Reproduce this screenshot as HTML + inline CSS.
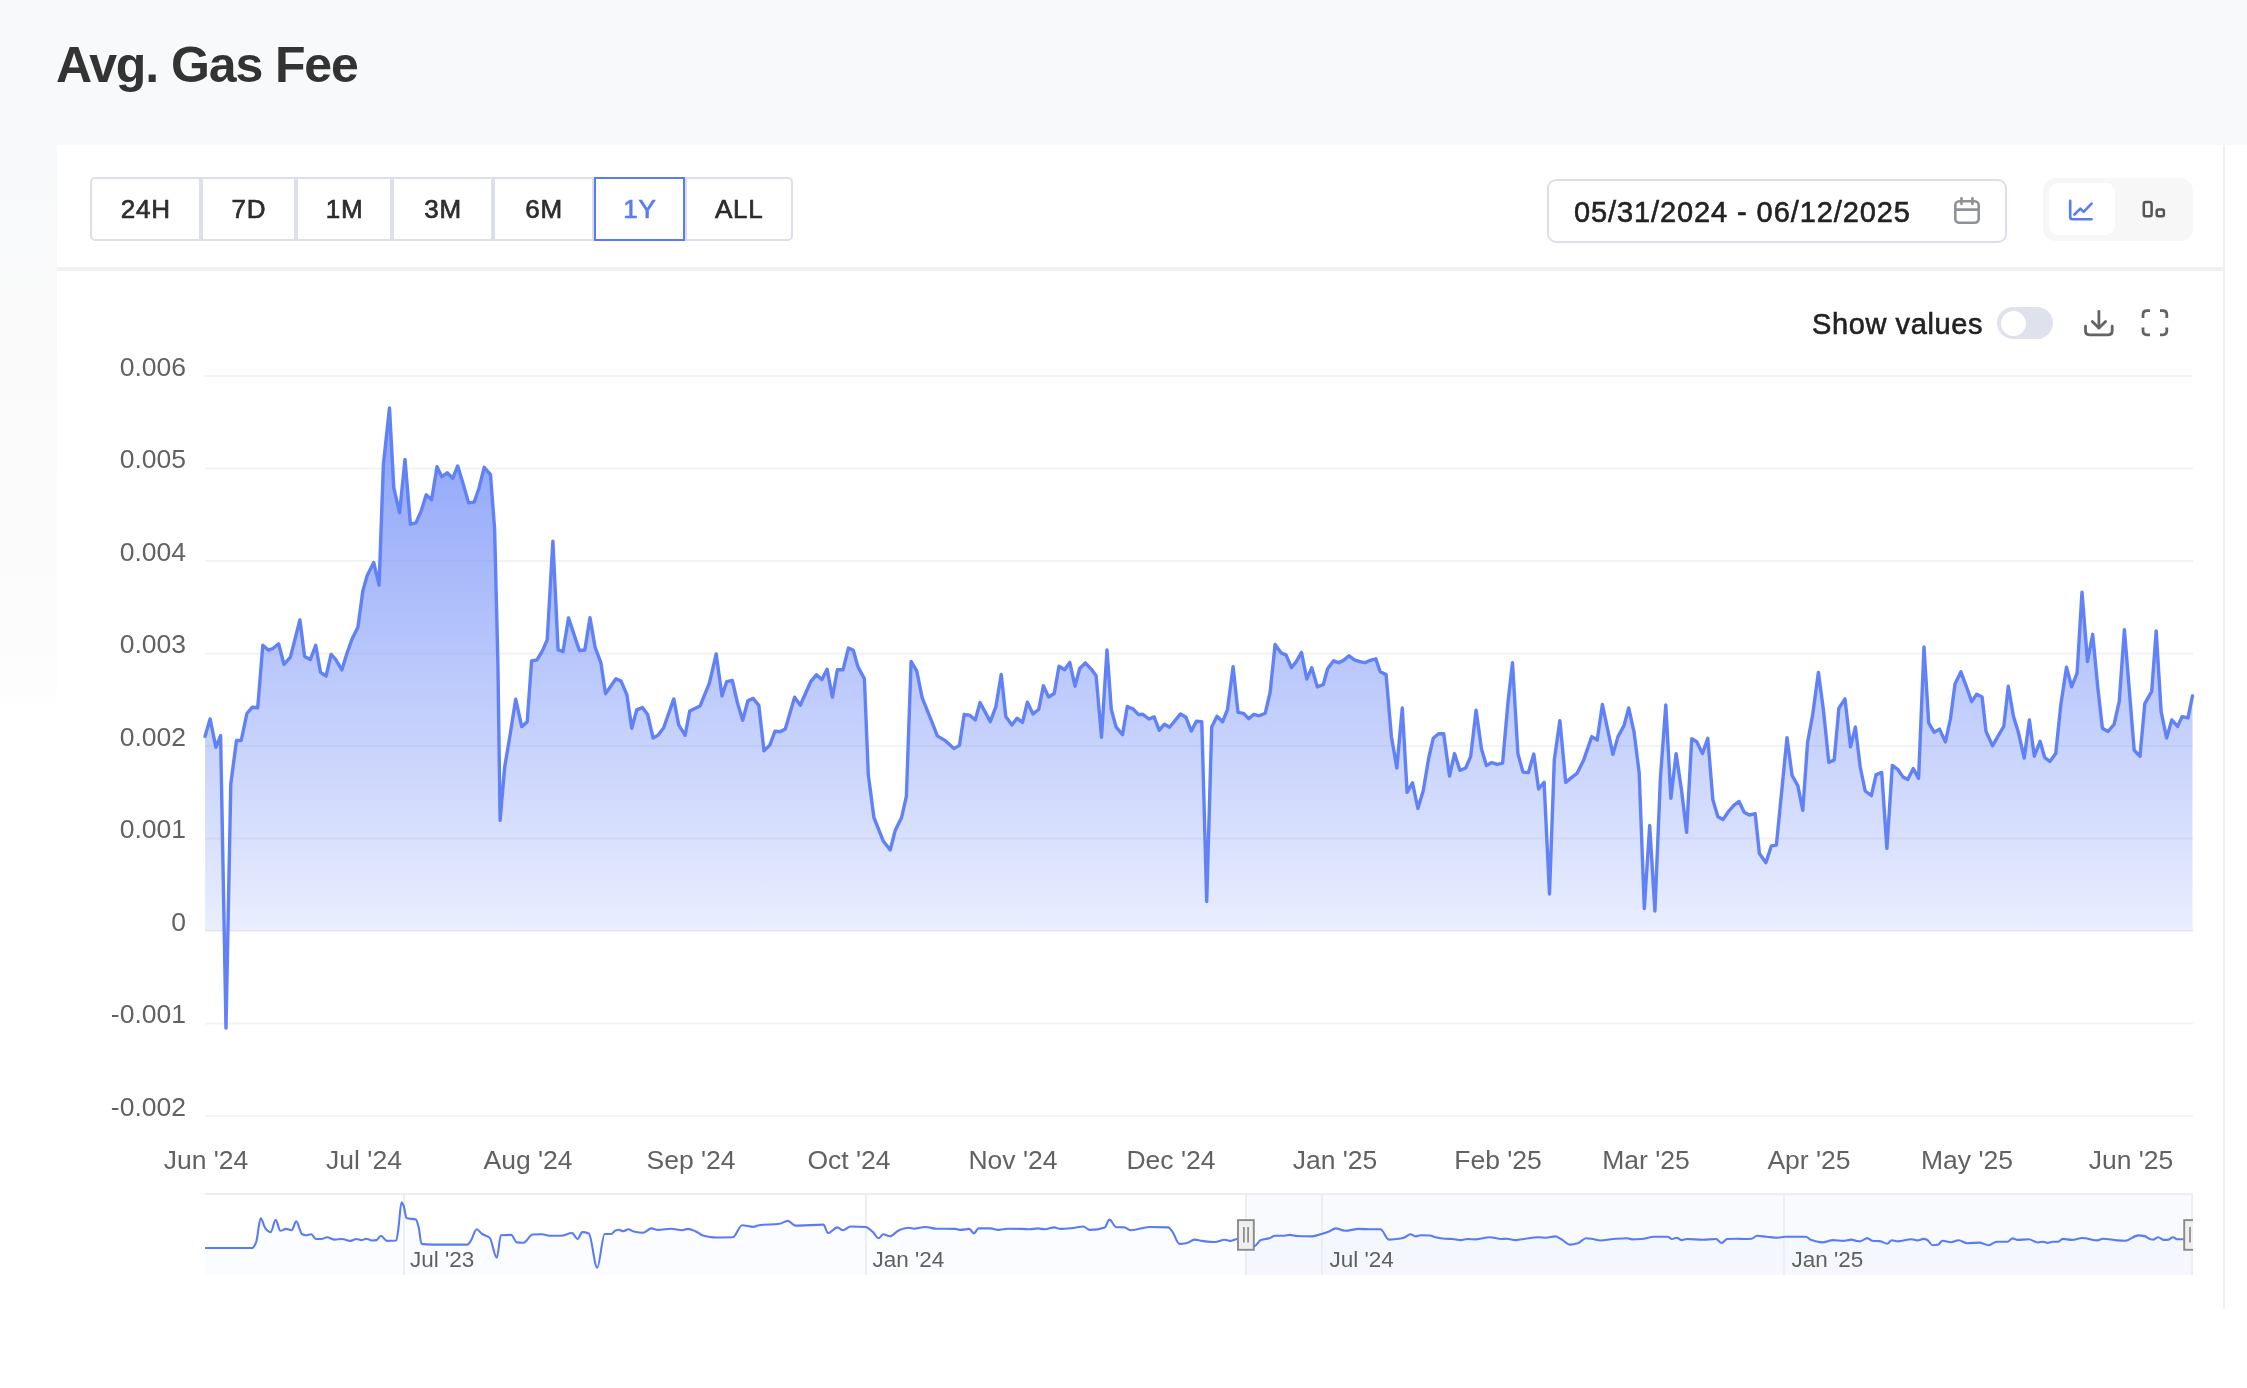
<!DOCTYPE html>
<html><head><meta charset="utf-8">
<style>
*{box-sizing:border-box;margin:0;padding:0}
html,body{width:2247px;height:1388px;overflow:hidden;background:#fff;font-family:"Liberation Sans",sans-serif;color:#2f2f2f}
.abs{position:absolute;will-change:transform}
#topbg{left:0;top:0;width:2247px;height:145px;background:#f8f9fa}
#leftbg{left:0;top:145px;width:57px;height:560px;background:linear-gradient(#f8f9fa 0%,#fafafb 45%,#fdfdfd 97%,#fff 100%)}
#card{left:57px;top:145px;width:2168px;height:1164px;background:#fff;border-right:2px solid #f0f0f2}
#title{left:56px;top:36px;font-size:50px;font-weight:bold;letter-spacing:-1.1px;color:#333;white-space:nowrap;line-height:58px}
#sep{left:57px;top:267px;width:2166px;height:4px;background:#f1f1f2}
.btns{left:89.5px;top:177px;height:64px;display:flex}
.btn{height:64px;border:2px solid #dcdeeb;display:flex;align-items:center;justify-content:center;font-size:26px;letter-spacing:0.8px;color:#2d2d2d;background:#fff;-webkit-text-stroke:0.7px currentColor}
.btn.first{border-radius:5px 0 0 5px}
.btn.last{border-radius:0 5px 5px 0}
.btn.act{border-color:#5a7bf6;color:#5a7bf6}
#date{left:1546.5px;top:178.7px;width:460px;height:64px;border:2px solid #dcdeeb;border-radius:9px}
#datetxt{left:1574px;top:195.5px;-webkit-text-stroke:0.6px #222;font-size:29px;letter-spacing:0.9px;color:#222;white-space:nowrap;line-height:32px}
#tog{left:2043px;top:177.5px;width:150px;height:63px;background:#f7f7f8;border-radius:13px}
#togact{left:2048.8px;top:183.2px;width:66px;height:52px;background:#fff;border-radius:9px}
#showv{left:1812px;top:307.7px;font-size:29px;letter-spacing:0.6px;-webkit-text-stroke:0.6px #222;color:#222;white-space:nowrap;line-height:32px}
#switch{left:1997px;top:307px;width:56px;height:32px;border-radius:16px;background:#dfe1ec}
#knob{left:2000.5px;top:310.5px;width:25px;height:25px;border-radius:50%;background:#fff}
svg{position:absolute;left:0;top:0;will-change:transform}
</style></head><body>
<div class="abs" id="topbg"></div>
<div class="abs" id="leftbg"></div>
<div class="abs" id="card"></div>
<div class="abs" id="title">Avg. Gas Fee</div>
<div class="abs" id="sep"></div>
<div class="abs btns">
<div class="btn first" style="width:111.4px">24H</div>
<div class="btn" style="width:95.1px">7D</div>
<div class="btn" style="width:96px">1M</div>
<div class="btn" style="width:101px">3M</div>
<div class="btn" style="width:101px">6M</div>
<div class="btn act" style="width:91px">1Y</div>
<div class="btn last" style="width:107.6px">ALL</div>
</div>
<div class="abs" id="date"></div>
<div class="abs" id="datetxt">05/31/2024 - 06/12/2025</div>
<div class="abs" id="tog"></div>
<div class="abs" id="togact"></div>
<div class="abs" id="showv">Show values</div>
<div class="abs" id="switch"></div>
<div class="abs" id="knob"></div>
<svg width="2247" height="1388" viewBox="0 0 2247 1388">
<defs>
<linearGradient id="ag" x1="0" y1="408" x2="0" y2="931.1" gradientUnits="userSpaceOnUse">
<stop offset="0" stop-color="#5a7bf6" stop-opacity="0.70"/>
<stop offset="1" stop-color="#5a7bf6" stop-opacity="0.13"/>
</linearGradient>
<clipPath id="above"><rect x="0" y="0" width="2247" height="931.1"/></clipPath>
</defs>
<!-- calendar icon -->
<g fill="none" stroke="#8f9199" stroke-width="2.6" stroke-linecap="round">
<rect x="1955.3" y="201.2" width="23.4" height="21.6" rx="4"/>
<line x1="1955.3" y1="209.6" x2="1978.7" y2="209.6"/>
<line x1="1961.5" y1="198.3" x2="1961.5" y2="204"/>
<line x1="1972.4" y1="198.3" x2="1972.4" y2="204"/>
</g>
<!-- line chart icon -->
<g fill="none" stroke="#5a7bf6" stroke-width="2.6" stroke-linecap="round" stroke-linejoin="round">
<path d="M2070.2 200.8 V217 q0 2.3 2.3 2.3 H2091.6"/>
<path d="M2074.4 214.5 L2080.4 208.6 L2083.6 211.8 L2091.6 203.7"/>
</g>
<!-- bar icon -->
<g fill="none" stroke="#555" stroke-width="2.5">
<rect x="2143.8" y="202" width="7.8" height="14.2" rx="2"/>
<rect x="2156.7" y="209.6" width="7.2" height="6.6" rx="1.8"/>
</g>
<!-- download icon -->
<g fill="none" stroke="#636363" stroke-width="2.8" stroke-linecap="round" stroke-linejoin="round">
<path d="M2085.5 326.2 V331 q0 3.8 3.8 3.8 H2108.4 q3.8 0 3.8 -3.8 V326.2"/>
<path d="M2098.9 311.4 V328"/>
<path d="M2092.3 321.4 L2098.9 328 L2105.6 321.4"/>
</g>
<!-- fullscreen icon -->
<g fill="none" stroke="#636363" stroke-width="2.8" stroke-linecap="butt">
<path d="M2143 318 V314.7 q0 -4 4 -4 H2150"/>
<path d="M2160 310.7 H2162.8 q4 0 4 4 V318"/>
<path d="M2143 327.5 V330.8 q0 4 4 4 H2150"/>
<path d="M2160 334.8 H2162.8 q4 0 4 -4 V327.5"/>
</g>
<line x1="205" y1="376.1" x2="2193" y2="376.1" stroke="#f3f3f4" stroke-width="2"/>
<line x1="205" y1="468.6" x2="2193" y2="468.6" stroke="#f3f3f4" stroke-width="2"/>
<line x1="205" y1="561.1" x2="2193" y2="561.1" stroke="#f3f3f4" stroke-width="2"/>
<line x1="205" y1="653.6" x2="2193" y2="653.6" stroke="#f3f3f4" stroke-width="2"/>
<line x1="205" y1="746.1" x2="2193" y2="746.1" stroke="#f3f3f4" stroke-width="2"/>
<line x1="205" y1="838.6" x2="2193" y2="838.6" stroke="#f3f3f4" stroke-width="2"/>
<line x1="205" y1="931.1" x2="2193" y2="931.1" stroke="#f3f3f4" stroke-width="2"/>
<line x1="205" y1="1023.6" x2="2193" y2="1023.6" stroke="#f3f3f4" stroke-width="2"/>
<line x1="205" y1="1116.1" x2="2193" y2="1116.1" stroke="#f3f3f4" stroke-width="2"/>
<g font-family="Liberation Sans" font-size="26.5" fill="#626262">
<text x="186" y="375.6" text-anchor="end">0.006</text>
<text x="186" y="468.1" text-anchor="end">0.005</text>
<text x="186" y="560.6" text-anchor="end">0.004</text>
<text x="186" y="653.1" text-anchor="end">0.003</text>
<text x="186" y="745.6" text-anchor="end">0.002</text>
<text x="186" y="838.1" text-anchor="end">0.001</text>
<text x="186" y="930.6" text-anchor="end">0</text>
<text x="186" y="1023.1" text-anchor="end">-0.001</text>
<text x="186" y="1115.6" text-anchor="end">-0.002</text>
<text x="206" y="1168.6" text-anchor="middle">Jun '24</text>
<text x="364" y="1168.6" text-anchor="middle">Jul '24</text>
<text x="528" y="1168.6" text-anchor="middle">Aug '24</text>
<text x="691" y="1168.6" text-anchor="middle">Sep '24</text>
<text x="849" y="1168.6" text-anchor="middle">Oct '24</text>
<text x="1013" y="1168.6" text-anchor="middle">Nov '24</text>
<text x="1171" y="1168.6" text-anchor="middle">Dec '24</text>
<text x="1335" y="1168.6" text-anchor="middle">Jan '25</text>
<text x="1498" y="1168.6" text-anchor="middle">Feb '25</text>
<text x="1646" y="1168.6" text-anchor="middle">Mar '25</text>
<text x="1809" y="1168.6" text-anchor="middle">Apr '25</text>
<text x="1967" y="1168.6" text-anchor="middle">May '25</text>
<text x="2131" y="1168.6" text-anchor="middle">Jun '25</text>
</g>
<path d="M205.1 736.3 L210.1 718.9 L215.9 747.4 L220.6 735.7 L226 1028 L230.8 783.9 L236.5 740.5 L241.2 740.5 L246.9 713.5 L252.3 707.2 L257.7 707.8 L262.8 645.3 L268.2 650.1 L272.9 648.5 L278.6 643.8 L284 664.4 L290.4 657.1 L299.9 620 L304.6 656.4 L310.3 659.6 L315.7 645.3 L320.5 672.3 L326.1 676 L331.1 654.4 L335.8 659.7 L341.9 669.9 L346.6 654.4 L352 639.2 L357.9 627.3 L362.9 590.6 L367.2 575.5 L373.7 562.5 L379.1 585.2 L383.4 464.2 L389.5 408 L393.8 487.9 L399.6 512.8 L405 459.4 L410.4 524.2 L415.9 522.9 L421.3 510.6 L426.2 494.8 L431.6 499.8 L437 466.8 L441.8 476.7 L447.2 472.8 L452.7 478.3 L457.7 466 L463.1 483.7 L468.6 502.9 L474.1 502.1 L478.7 489.2 L484.2 467.3 L490.5 474.7 L494.6 528.9 L497.9 663 L500.1 820.4 L504.7 767 L510.2 734.2 L515.7 699.2 L521.7 726.6 L527.2 721.9 L531.6 660.9 L537 659.8 L542.5 650.7 L547.2 639.8 L552.9 541.2 L558.1 649.9 L563 651.6 L568.5 617.9 L579.4 650.5 L584.8 650 L590 617.7 L595.2 647.7 L600.9 662.6 L605.5 693.8 L615.9 678.8 L621.1 681.1 L626.9 694.9 L631.8 728.3 L636.7 709.9 L642.4 707.6 L647.6 714.5 L653.1 738.1 L658 735.3 L663.7 727.8 L673.8 698.9 L678.7 724.9 L685.1 735.3 L689.7 711.1 L700.1 705.9 L709.3 683.4 L716.2 654 L722 696.1 L726.6 681.7 L732.3 680.5 L737.5 703 L742.7 720.3 L747.9 700.7 L753.1 698.4 L758.8 705.3 L764 750.8 L769.8 745.1 L775 731.2 L780.2 731.8 L785.3 728.9 L794.6 697.2 L800.3 705.3 L810.7 681.7 L816.5 674.7 L821.9 679.6 L827.1 669.3 L832.4 697.1 L837.4 669.8 L843 669.8 L848.5 647.9 L853.3 650.3 L858 666.9 L864.4 678.8 L868.3 774.7 L873.9 817.5 L883.4 841.3 L890.2 850 L895.3 830.2 L901.6 817.5 L906.4 796.1 L911.1 661.4 L916.7 670.9 L922.2 697.9 L930.9 719.3 L937.3 735.9 L945.2 740.6 L953.9 748.6 L959.4 745.4 L964.2 714.5 L969.7 715.3 L975.3 720 L980 702.6 L985.6 712.9 L990.3 721.6 L995.9 706.6 L1001.2 674.5 L1005.8 716.5 L1011.9 725.1 L1017 718.2 L1022.5 722.5 L1027.4 702.2 L1033 713.9 L1038.7 709.5 L1043.4 685.8 L1048.6 697 L1054.2 693.5 L1059 666.3 L1064.6 669.8 L1069.8 662.4 L1075 686.2 L1079.7 668.5 L1085.3 662.9 L1091.4 669.3 L1096.1 675.8 L1101.5 737.2 L1107 649.9 L1111.3 709.5 L1116 726.8 L1122.5 734.6 L1127.3 706.5 L1133.3 709.1 L1138.5 714.7 L1142.8 714.3 L1148.9 719 L1154.1 716.9 L1159.2 730.3 L1164.4 724.2 L1169.6 727.3 L1180.5 713.9 L1185.9 717.2 L1191.3 731.1 L1196.4 721.2 L1201.8 721.8 L1206.7 901.5 L1211.7 727.1 L1217 716.2 L1222.6 721.8 L1227.5 709.3 L1233.1 666.7 L1238 712.3 L1243.4 713.3 L1248.7 718.6 L1253.9 714.3 L1259.2 715.8 L1265.2 713.3 L1270.1 692.5 L1275.1 644.5 L1281 652.8 L1286 654.8 L1291.4 667.7 L1296.3 661.7 L1301.5 652.4 L1306.8 679 L1311.8 667.7 L1317.3 686.9 L1323.3 684.5 L1327.6 668.7 L1333.6 660.8 L1338.5 662.7 L1343.5 660.4 L1349 655.8 L1354.4 659.8 L1359.9 661.7 L1364.9 662.7 L1370.2 660.4 L1375.8 658.8 L1380.2 671.7 L1386.1 674.6 L1391.4 736.5 L1396.8 768 L1402.3 708 L1407.1 792.3 L1412.5 782.9 L1417.9 808.5 L1423.3 790.5 L1428.7 758.1 L1433.2 738.3 L1438.6 733.8 L1443.7 733.8 L1449.5 776.1 L1454.5 753.6 L1459.9 770.3 L1465.7 768 L1470.7 756.3 L1476.1 710.3 L1481.5 749.1 L1486.4 765.6 L1491.8 762.6 L1497.2 764.4 L1502.6 763.1 L1508 702.2 L1512.5 662.6 L1517.9 753.6 L1523 772.1 L1528.4 772.5 L1533.8 754.1 L1538.6 789 L1544.1 782.4 L1549.5 894 L1554.3 759.9 L1559.9 720.6 L1565.7 782.4 L1571.1 777.9 L1577 773.4 L1583.7 759.9 L1591.8 736.6 L1597.2 740 L1602.4 704.5 L1607.9 730.7 L1612.9 754.4 L1618 736.6 L1624 725.6 L1628.7 707.9 L1634.1 732.4 L1639.2 773 L1644.3 908.5 L1649.7 825.5 L1654.9 911 L1660.4 778.1 L1665.8 705 L1670.9 798.4 L1676.1 753.6 L1681.5 790 L1686.6 832.3 L1691.7 738.8 L1696.8 741.7 L1702.4 753.6 L1707.8 738.3 L1712.9 800.1 L1717.9 816.7 L1723 819.6 L1728.1 812 L1734 805.2 L1739.1 801.5 L1744.2 812.3 L1749.3 815 L1755.2 813.7 L1759.4 853.5 L1765.9 862.8 L1771.3 845.9 L1776.4 845 L1787 737.6 L1792.1 775.5 L1797.8 785.6 L1802.8 810.4 L1807.6 742.2 L1812.5 715.9 L1818.4 672.5 L1823.4 709.7 L1828.8 762.4 L1834.2 760 L1838.9 708.2 L1845 698.9 L1850.5 746.9 L1855.4 727.1 L1860.2 767 L1865.2 791 L1871.4 795.7 L1876 774.8 L1881.7 772.4 L1886.9 848.3 L1892.3 765.5 L1897.7 769.3 L1903.1 777.1 L1907.8 779.4 L1913.2 768.6 L1918.6 778.3 L1924 647 L1928.7 722.9 L1934.1 732.2 L1939.5 729.1 L1945.4 741.9 L1950.4 719 L1955 684.1 L1960.9 671.8 L1966.6 687.2 L1971.7 701.6 L1976.7 694.2 L1982.1 697 L1986 731.4 L1992.5 745.8 L1998 736.1 L2003.8 726.4 L2008.3 686.2 L2013.5 716.6 L2018.5 732.8 L2024.2 758.1 L2029.4 719.9 L2034.3 756.2 L2040.1 741.3 L2044.7 757.5 L2049.9 761.4 L2055.7 753.6 L2060.9 704.3 L2066.5 667.3 L2071.6 686.8 L2077.1 673.2 L2082 592.1 L2087.5 661.5 L2092.7 634.3 L2097.8 687.5 L2102.4 728.3 L2108 731.5 L2114.1 724.4 L2119.2 701.7 L2124.4 629.7 L2129 686.2 L2134.2 750.3 L2140 756.2 L2144.8 703.7 L2151.7 691.3 L2156.2 631 L2161.1 711.4 L2166.6 738 L2171.8 719.9 L2177.6 726.4 L2182.1 716.6 L2188 717.9 L2192.5 695.9 L2192.5 931.1 L205.1 931.1 Z" fill="url(#ag)" clip-path="url(#above)"/>
<path d="M205.1 736.3 L210.1 718.9 L215.9 747.4 L220.6 735.7 L226 1028 L230.8 783.9 L236.5 740.5 L241.2 740.5 L246.9 713.5 L252.3 707.2 L257.7 707.8 L262.8 645.3 L268.2 650.1 L272.9 648.5 L278.6 643.8 L284 664.4 L290.4 657.1 L299.9 620 L304.6 656.4 L310.3 659.6 L315.7 645.3 L320.5 672.3 L326.1 676 L331.1 654.4 L335.8 659.7 L341.9 669.9 L346.6 654.4 L352 639.2 L357.9 627.3 L362.9 590.6 L367.2 575.5 L373.7 562.5 L379.1 585.2 L383.4 464.2 L389.5 408 L393.8 487.9 L399.6 512.8 L405 459.4 L410.4 524.2 L415.9 522.9 L421.3 510.6 L426.2 494.8 L431.6 499.8 L437 466.8 L441.8 476.7 L447.2 472.8 L452.7 478.3 L457.7 466 L463.1 483.7 L468.6 502.9 L474.1 502.1 L478.7 489.2 L484.2 467.3 L490.5 474.7 L494.6 528.9 L497.9 663 L500.1 820.4 L504.7 767 L510.2 734.2 L515.7 699.2 L521.7 726.6 L527.2 721.9 L531.6 660.9 L537 659.8 L542.5 650.7 L547.2 639.8 L552.9 541.2 L558.1 649.9 L563 651.6 L568.5 617.9 L579.4 650.5 L584.8 650 L590 617.7 L595.2 647.7 L600.9 662.6 L605.5 693.8 L615.9 678.8 L621.1 681.1 L626.9 694.9 L631.8 728.3 L636.7 709.9 L642.4 707.6 L647.6 714.5 L653.1 738.1 L658 735.3 L663.7 727.8 L673.8 698.9 L678.7 724.9 L685.1 735.3 L689.7 711.1 L700.1 705.9 L709.3 683.4 L716.2 654 L722 696.1 L726.6 681.7 L732.3 680.5 L737.5 703 L742.7 720.3 L747.9 700.7 L753.1 698.4 L758.8 705.3 L764 750.8 L769.8 745.1 L775 731.2 L780.2 731.8 L785.3 728.9 L794.6 697.2 L800.3 705.3 L810.7 681.7 L816.5 674.7 L821.9 679.6 L827.1 669.3 L832.4 697.1 L837.4 669.8 L843 669.8 L848.5 647.9 L853.3 650.3 L858 666.9 L864.4 678.8 L868.3 774.7 L873.9 817.5 L883.4 841.3 L890.2 850 L895.3 830.2 L901.6 817.5 L906.4 796.1 L911.1 661.4 L916.7 670.9 L922.2 697.9 L930.9 719.3 L937.3 735.9 L945.2 740.6 L953.9 748.6 L959.4 745.4 L964.2 714.5 L969.7 715.3 L975.3 720 L980 702.6 L985.6 712.9 L990.3 721.6 L995.9 706.6 L1001.2 674.5 L1005.8 716.5 L1011.9 725.1 L1017 718.2 L1022.5 722.5 L1027.4 702.2 L1033 713.9 L1038.7 709.5 L1043.4 685.8 L1048.6 697 L1054.2 693.5 L1059 666.3 L1064.6 669.8 L1069.8 662.4 L1075 686.2 L1079.7 668.5 L1085.3 662.9 L1091.4 669.3 L1096.1 675.8 L1101.5 737.2 L1107 649.9 L1111.3 709.5 L1116 726.8 L1122.5 734.6 L1127.3 706.5 L1133.3 709.1 L1138.5 714.7 L1142.8 714.3 L1148.9 719 L1154.1 716.9 L1159.2 730.3 L1164.4 724.2 L1169.6 727.3 L1180.5 713.9 L1185.9 717.2 L1191.3 731.1 L1196.4 721.2 L1201.8 721.8 L1206.7 901.5 L1211.7 727.1 L1217 716.2 L1222.6 721.8 L1227.5 709.3 L1233.1 666.7 L1238 712.3 L1243.4 713.3 L1248.7 718.6 L1253.9 714.3 L1259.2 715.8 L1265.2 713.3 L1270.1 692.5 L1275.1 644.5 L1281 652.8 L1286 654.8 L1291.4 667.7 L1296.3 661.7 L1301.5 652.4 L1306.8 679 L1311.8 667.7 L1317.3 686.9 L1323.3 684.5 L1327.6 668.7 L1333.6 660.8 L1338.5 662.7 L1343.5 660.4 L1349 655.8 L1354.4 659.8 L1359.9 661.7 L1364.9 662.7 L1370.2 660.4 L1375.8 658.8 L1380.2 671.7 L1386.1 674.6 L1391.4 736.5 L1396.8 768 L1402.3 708 L1407.1 792.3 L1412.5 782.9 L1417.9 808.5 L1423.3 790.5 L1428.7 758.1 L1433.2 738.3 L1438.6 733.8 L1443.7 733.8 L1449.5 776.1 L1454.5 753.6 L1459.9 770.3 L1465.7 768 L1470.7 756.3 L1476.1 710.3 L1481.5 749.1 L1486.4 765.6 L1491.8 762.6 L1497.2 764.4 L1502.6 763.1 L1508 702.2 L1512.5 662.6 L1517.9 753.6 L1523 772.1 L1528.4 772.5 L1533.8 754.1 L1538.6 789 L1544.1 782.4 L1549.5 894 L1554.3 759.9 L1559.9 720.6 L1565.7 782.4 L1571.1 777.9 L1577 773.4 L1583.7 759.9 L1591.8 736.6 L1597.2 740 L1602.4 704.5 L1607.9 730.7 L1612.9 754.4 L1618 736.6 L1624 725.6 L1628.7 707.9 L1634.1 732.4 L1639.2 773 L1644.3 908.5 L1649.7 825.5 L1654.9 911 L1660.4 778.1 L1665.8 705 L1670.9 798.4 L1676.1 753.6 L1681.5 790 L1686.6 832.3 L1691.7 738.8 L1696.8 741.7 L1702.4 753.6 L1707.8 738.3 L1712.9 800.1 L1717.9 816.7 L1723 819.6 L1728.1 812 L1734 805.2 L1739.1 801.5 L1744.2 812.3 L1749.3 815 L1755.2 813.7 L1759.4 853.5 L1765.9 862.8 L1771.3 845.9 L1776.4 845 L1787 737.6 L1792.1 775.5 L1797.8 785.6 L1802.8 810.4 L1807.6 742.2 L1812.5 715.9 L1818.4 672.5 L1823.4 709.7 L1828.8 762.4 L1834.2 760 L1838.9 708.2 L1845 698.9 L1850.5 746.9 L1855.4 727.1 L1860.2 767 L1865.2 791 L1871.4 795.7 L1876 774.8 L1881.7 772.4 L1886.9 848.3 L1892.3 765.5 L1897.7 769.3 L1903.1 777.1 L1907.8 779.4 L1913.2 768.6 L1918.6 778.3 L1924 647 L1928.7 722.9 L1934.1 732.2 L1939.5 729.1 L1945.4 741.9 L1950.4 719 L1955 684.1 L1960.9 671.8 L1966.6 687.2 L1971.7 701.6 L1976.7 694.2 L1982.1 697 L1986 731.4 L1992.5 745.8 L1998 736.1 L2003.8 726.4 L2008.3 686.2 L2013.5 716.6 L2018.5 732.8 L2024.2 758.1 L2029.4 719.9 L2034.3 756.2 L2040.1 741.3 L2044.7 757.5 L2049.9 761.4 L2055.7 753.6 L2060.9 704.3 L2066.5 667.3 L2071.6 686.8 L2077.1 673.2 L2082 592.1 L2087.5 661.5 L2092.7 634.3 L2097.8 687.5 L2102.4 728.3 L2108 731.5 L2114.1 724.4 L2119.2 701.7 L2124.4 629.7 L2129 686.2 L2134.2 750.3 L2140 756.2 L2144.8 703.7 L2151.7 691.3 L2156.2 631 L2161.1 711.4 L2166.6 738 L2171.8 719.9 L2177.6 726.4 L2182.1 716.6 L2188 717.9 L2192.5 695.9" fill="none" stroke="#6181f7" stroke-width="3.4" stroke-linejoin="round" stroke-linecap="round"/>
<!-- slider -->
<rect x="205" y="1194" width="1988" height="80" fill="#fff"/>
<rect x="1246" y="1195" width="946" height="79.5" fill="#f9fafe"/>
<line x1="205" y1="1194" x2="2193" y2="1194" stroke="#eeeeef" stroke-width="2"/>
<path d="M205 1248 C220.8 1248.0 236.5 1248.0 252.3 1248 C253.6 1248.0 254.8 1245.3 256.1 1242.4 C257.6 1238.9 259.2 1218.4 260.7 1218.4 C262.3 1218.4 263.8 1226.7 265.4 1228.4 C267.2 1230.3 268.9 1232.1 270.7 1232.1 C272.4 1232.1 274.0 1219.9 275.7 1219.9 C277.3 1219.9 278.8 1230.8 280.4 1230.8 C282.3 1230.8 284.1 1228.9 286 1228.9 C287.9 1228.9 289.7 1230.2 291.6 1230.2 C293.2 1230.2 294.7 1221.4 296.3 1221.4 C298.2 1221.4 300.0 1232.9 301.9 1234 C303.1 1234.7 304.4 1235.3 305.6 1235.3 C307.5 1235.3 309.3 1234.2 311.2 1234.2 C312.8 1234.2 314.3 1239.0 315.9 1239 C317.8 1239.0 319.6 1239.0 321.5 1239 C323.4 1239.0 325.2 1237.3 327.1 1237.3 C329.6 1237.3 332.1 1239.6 334.6 1239.6 C337.1 1239.6 339.6 1239.0 342.1 1239 C344.9 1239.0 347.7 1240.9 350.5 1240.9 C352.4 1240.9 354.2 1239.0 356.1 1239 C358.0 1239.0 359.8 1240.1 361.7 1240.1 C363.3 1240.1 364.8 1238.7 366.4 1238.7 C368.3 1238.7 370.1 1240.5 372 1240.5 C373.5 1240.5 375.1 1240.3 376.6 1240.1 C378.0 1239.9 379.5 1235.8 380.9 1235.8 C382.9 1235.8 384.9 1240.9 386.9 1240.9 C390.0 1240.9 393.2 1240.8 396.3 1240.5 C397.0 1240.4 397.8 1232.5 398.5 1227.4 C399.5 1220.5 400.5 1202.2 401.5 1202.2 C402.2 1202.2 403.0 1204.2 403.7 1205.9 C404.6 1208.1 405.6 1217.8 406.5 1218.1 C409.6 1219.3 412.8 1218.5 415.9 1219.6 C416.8 1219.9 417.8 1223.9 418.7 1227.4 C419.6 1230.9 420.6 1243.8 421.5 1243.9 C425.5 1244.5 429.6 1244.6 433.6 1244.6 C444.8 1244.6 456.1 1244.6 467.3 1244.6 C468.5 1244.6 469.8 1242.2 471 1240.5 C472.9 1237.9 474.7 1229.3 476.6 1229.3 C478.5 1229.3 480.3 1232.8 482.2 1234 C484.7 1235.6 487.2 1235.6 489.7 1237.7 C492.1 1239.7 494.4 1257.7 496.8 1257.7 C498.2 1257.7 499.5 1235.4 500.9 1235.3 C504.3 1235.0 507.8 1234.9 511.2 1234.9 C513.1 1234.9 514.9 1242.2 516.8 1242.4 C519.0 1242.7 521.2 1242.8 523.4 1242.8 C526.5 1242.8 529.6 1234.6 532.7 1234.5 C535.8 1234.4 539.0 1234.3 542.1 1234.3 C544.6 1234.3 547.0 1235.8 549.5 1235.8 C553.2 1235.8 557.0 1235.8 560.7 1235.8 C564.5 1235.8 568.2 1233.0 572 1233 C573.9 1233.0 575.7 1239.0 577.6 1239 C579.1 1239.0 580.7 1232.1 582.2 1232.1 C584.4 1232.1 586.6 1232.6 588.8 1233.4 C591.6 1234.4 594.4 1267.7 597.2 1267.7 C599.7 1267.7 602.2 1234.0 604.7 1234 C606.9 1234.0 609.0 1234.0 611.2 1234 C612.5 1234.0 613.7 1231.4 615 1230.8 C616.2 1230.3 617.5 1229.7 618.7 1229.7 C620.3 1229.7 621.8 1231.2 623.4 1231.2 C625.0 1231.2 626.5 1229.3 628.1 1229.3 C630.0 1229.3 631.8 1231.1 633.7 1231.5 C636.8 1232.1 639.9 1232.7 643 1232.7 C645.8 1232.7 648.6 1228.4 651.4 1228.4 C653.6 1228.4 655.8 1229.9 658 1229.9 C662.4 1229.9 666.7 1228.7 671.1 1228.7 C674.8 1228.7 678.6 1230.2 682.3 1230.2 C684.2 1230.2 686.0 1228.9 687.9 1228.9 C690.4 1228.9 692.9 1230.2 695.4 1231.2 C697.9 1232.2 700.4 1234.9 702.9 1235.5 C707.2 1236.6 711.6 1237.5 715.9 1237.5 C721.5 1237.5 727.2 1237.4 732.8 1237.3 C735.9 1237.2 739.0 1225.2 742.1 1225.2 C745.8 1225.2 749.6 1226.9 753.3 1226.9 C755.2 1226.9 757.0 1225.4 758.9 1225.2 C765.8 1224.3 772.6 1224.6 779.5 1223.7 C782.3 1223.3 785.1 1220.9 787.9 1220.9 C790.4 1220.9 792.9 1225.6 795.4 1225.6 C804.7 1225.6 814.1 1224.6 823.4 1224.6 C825.0 1224.6 826.5 1233.0 828.1 1233 C831.2 1233.0 834.3 1227.4 837.4 1227.4 C839.3 1227.4 841.1 1230.2 843 1230.2 C845.5 1230.2 848.0 1226.5 850.5 1226.5 C855.5 1226.5 860.5 1226.6 865.5 1227 C868.0 1227.2 870.5 1230.0 873 1232.1 C874.9 1233.7 876.7 1238.3 878.6 1238.3 C880.1 1238.3 881.7 1234.3 883.2 1234.3 C885.4 1234.3 887.6 1236.2 889.8 1236.2 C892.9 1236.2 896.0 1231.3 899.1 1230.2 C902.2 1229.1 905.4 1227.8 908.5 1227.8 C910.4 1227.8 912.2 1228.7 914.1 1228.7 C917.8 1228.7 921.6 1227.0 925.3 1227 C929.0 1227.0 932.8 1228.6 936.5 1228.7 C942.7 1228.8 949.0 1228.8 955.2 1228.9 C957.1 1228.9 958.9 1229.9 960.8 1229.9 C963.6 1229.9 966.4 1228.9 969.2 1228.9 C970.8 1228.9 972.3 1233.4 973.9 1233.4 C975.5 1233.4 977.0 1228.4 978.6 1228.4 C982.6 1228.4 986.7 1228.4 990.7 1228.4 C993.2 1228.4 995.7 1229.9 998.2 1229.9 C1001.3 1229.9 1004.4 1228.7 1007.5 1228.7 C1012.5 1228.7 1017.5 1228.8 1022.5 1228.9 C1025.0 1229.0 1027.5 1229.3 1030 1229.3 C1032.5 1229.3 1035.0 1228.4 1037.5 1228.4 C1040.0 1228.4 1042.5 1229.3 1045 1229.3 C1048.1 1229.3 1051.2 1227.4 1054.3 1227.4 C1056.2 1227.4 1058.0 1228.9 1059.9 1228.9 C1064.3 1228.9 1068.6 1228.4 1073 1228 C1076.4 1227.7 1079.9 1226.5 1083.3 1226.5 C1085.5 1226.5 1087.6 1229.9 1089.8 1229.9 C1094.8 1229.9 1099.8 1229.2 1104.8 1227.4 C1106.3 1226.9 1107.9 1219.6 1109.4 1219.6 C1111.6 1219.6 1113.8 1226.8 1116 1227 C1118.8 1227.3 1121.6 1227.2 1124.4 1227.4 C1126.6 1227.6 1128.7 1230.2 1130.9 1230.2 C1137.1 1230.2 1143.4 1227.0 1149.6 1227 C1155.8 1227.0 1162.1 1227.1 1168.3 1227.4 C1169.6 1227.5 1170.8 1229.6 1172.1 1231.2 C1174.6 1234.2 1177.0 1243.9 1179.5 1243.9 C1182.0 1243.9 1184.5 1243.5 1187 1243 C1189.5 1242.5 1192.0 1239.6 1194.5 1239.6 C1197.0 1239.6 1199.5 1240.6 1202 1240.9 C1206.3 1241.4 1210.7 1242.0 1215 1242 C1218.1 1242.0 1221.3 1239.8 1224.4 1239.8 C1226.3 1239.8 1228.1 1240.9 1230 1240.9 C1232.5 1240.9 1235.0 1239.0 1237.5 1239 C1240.3 1239.0 1243.2 1241.8 1246 1243 C1248.8 1244.2 1251.5 1246.1 1254.3 1246.1 C1256.5 1246.1 1258.6 1240.9 1260.8 1240.1 C1263.6 1239.1 1266.5 1239.1 1269.3 1238.3 C1271.2 1237.8 1273.0 1235.8 1274.9 1235.8 C1278.0 1235.8 1281.1 1235.8 1284.2 1235.8 C1286.1 1235.8 1287.9 1234.9 1289.8 1234.9 C1292.3 1234.9 1294.8 1235.9 1297.3 1236 C1302.3 1236.2 1307.2 1236.4 1312.2 1236.4 C1315.3 1236.4 1318.5 1234.9 1321.6 1234 C1324.1 1233.3 1326.6 1232.5 1329.1 1231.5 C1331.3 1230.6 1333.4 1228.4 1335.6 1228.4 C1338.7 1228.4 1341.9 1230.8 1345 1230.8 C1349.7 1230.8 1354.3 1228.9 1359 1228.9 C1363.3 1228.9 1367.7 1229.3 1372 1229.3 C1374.8 1229.3 1377.7 1229.3 1380.5 1229.3 C1383.3 1229.3 1386.1 1239.6 1388.9 1239.6 C1391.4 1239.6 1393.9 1239.3 1396.4 1239 C1398.9 1238.7 1401.3 1238.4 1403.8 1237.7 C1406.0 1237.1 1408.2 1234.3 1410.4 1234.3 C1412.3 1234.3 1414.1 1236.4 1416 1236.4 C1417.6 1236.4 1419.1 1235.3 1420.7 1235.3 C1423.8 1235.3 1426.9 1235.4 1430 1235.5 C1431.9 1235.6 1433.7 1236.9 1435.6 1237.3 C1438.7 1238.0 1441.9 1238.5 1445 1238.7 C1447.5 1238.9 1450.0 1238.8 1452.5 1239 C1455.3 1239.2 1458.1 1240.1 1460.9 1240.1 C1463.1 1240.1 1465.2 1239.0 1467.4 1239 C1470.2 1239.0 1473.0 1239.4 1475.8 1239.4 C1480.5 1239.4 1485.2 1237.2 1489.9 1237.2 C1493.6 1237.2 1497.4 1239.0 1501.1 1239 C1503.0 1239.0 1504.8 1238.7 1506.7 1238.7 C1509.8 1238.7 1512.9 1240.1 1516 1240.1 C1519.1 1240.1 1522.3 1239.1 1525.4 1238.7 C1529.8 1238.1 1534.1 1237.2 1538.5 1237.2 C1541.0 1237.2 1543.4 1237.7 1545.9 1237.7 C1549.0 1237.7 1552.2 1236.4 1555.3 1236.4 C1557.2 1236.4 1559.0 1238.0 1560.9 1239 C1564.0 1240.6 1567.1 1244.6 1570.2 1244.6 C1572.7 1244.6 1575.2 1244.0 1577.7 1243.3 C1580.5 1242.6 1583.3 1238.3 1586.1 1238.3 C1588.3 1238.3 1590.5 1238.7 1592.7 1239 C1595.2 1239.3 1597.6 1240.5 1600.1 1240.5 C1604.5 1240.5 1608.8 1239.3 1613.2 1239 C1617.9 1238.7 1622.5 1238.3 1627.2 1238.3 C1628.8 1238.3 1630.3 1239.4 1631.9 1239.4 C1635.0 1239.4 1638.2 1239.2 1641.3 1239 C1645.6 1238.7 1650.0 1236.8 1654.3 1236.8 C1658.7 1236.8 1663.0 1236.8 1667.4 1236.8 C1669.0 1236.8 1670.5 1239.0 1672.1 1239 C1673.7 1239.0 1675.2 1237.7 1676.8 1237.7 C1678.3 1237.7 1679.9 1240.1 1681.4 1240.1 C1683.3 1240.1 1685.1 1239.0 1687 1239 C1692.3 1239.0 1697.6 1239.8 1702.9 1239.8 C1707.3 1239.8 1711.6 1239.0 1716 1239 C1717.9 1239.0 1719.7 1243.0 1721.6 1243 C1723.5 1243.0 1725.3 1239.1 1727.2 1239 C1730.3 1238.8 1733.5 1238.7 1736.6 1238.7 C1739.1 1238.7 1741.6 1239.0 1744.1 1239 C1746.6 1239.0 1749.0 1238.9 1751.5 1238.7 C1753.4 1238.6 1755.2 1235.8 1757.1 1235.8 C1760.2 1235.8 1763.4 1236.5 1766.5 1236.8 C1770.2 1237.1 1774.0 1237.7 1777.7 1237.7 C1780.2 1237.7 1782.7 1236.8 1785.2 1236.8 C1792.0 1236.8 1798.9 1236.8 1805.7 1236.8 C1807.6 1236.8 1809.5 1239.5 1811.4 1240.1 C1815.1 1241.3 1818.9 1242.4 1822.6 1242.4 C1826.0 1242.4 1829.5 1240.1 1832.9 1240.1 C1836.3 1240.1 1839.7 1240.9 1843.1 1240.9 C1845.9 1240.9 1848.7 1239.6 1851.5 1239.6 C1853.1 1239.6 1854.6 1240.6 1856.2 1240.9 C1857.5 1241.1 1858.7 1241.4 1860 1241.4 C1862.4 1241.4 1864.9 1238.1 1867.3 1238.1 C1868.9 1238.1 1870.5 1240.5 1872.1 1240.7 C1874.6 1241.0 1877.2 1240.9 1879.7 1241.1 C1882.2 1241.3 1884.7 1243.7 1887.2 1243.7 C1888.7 1243.7 1890.3 1240.2 1891.8 1240.2 C1893.8 1240.2 1895.8 1241.4 1897.8 1241.4 C1902.3 1241.4 1906.9 1239.2 1911.4 1239.2 C1913.4 1239.2 1915.5 1240.4 1917.5 1240.4 C1919.5 1240.4 1921.5 1238.9 1923.5 1238.9 C1924.8 1238.9 1926.0 1239.4 1927.3 1239.9 C1929.1 1240.6 1930.8 1245.2 1932.6 1245.2 C1934.4 1245.2 1936.1 1245.1 1937.9 1244.8 C1939.4 1244.6 1941.0 1240.7 1942.5 1240.7 C1945.3 1240.7 1948.0 1242.2 1950.8 1242.2 C1953.3 1242.2 1955.9 1240.2 1958.4 1240.2 C1961.4 1240.2 1964.4 1243.2 1967.4 1243.2 C1971.4 1243.2 1975.5 1242.6 1979.5 1242.6 C1982.5 1242.6 1985.6 1245.2 1988.6 1245.2 C1991.4 1245.2 1994.1 1241.7 1996.9 1241.7 C2000.4 1241.7 2004.0 1241.7 2007.5 1241.7 C2009.3 1241.7 2011.0 1238.4 2012.8 1238.4 C2014.3 1238.4 2015.9 1239.9 2017.4 1239.9 C2021.2 1239.9 2024.9 1239.3 2028.7 1239.3 C2031.7 1239.3 2034.8 1242.5 2037.8 1242.5 C2039.6 1242.5 2041.3 1241.7 2043.1 1241.7 C2044.6 1241.7 2046.1 1242.9 2047.6 1242.9 C2049.4 1242.9 2051.1 1241.7 2052.9 1241.7 C2054.7 1241.7 2056.4 1241.7 2058.2 1241.7 C2059.7 1241.7 2061.3 1238.9 2062.8 1238.9 C2065.8 1238.9 2068.8 1239.9 2071.8 1239.9 C2075.3 1239.9 2078.9 1238.0 2082.4 1238 C2087.5 1238.0 2092.5 1240.4 2097.6 1240.4 C2099.4 1240.4 2101.1 1238.7 2102.9 1238.7 C2107.7 1238.7 2112.4 1240.1 2117.2 1240.4 C2119.7 1240.6 2122.3 1240.8 2124.8 1240.8 C2129.3 1240.8 2133.9 1235.4 2138.4 1235.4 C2140.4 1235.4 2142.5 1235.7 2144.5 1236.1 C2146.5 1236.5 2148.5 1238.8 2150.5 1239.2 C2151.5 1239.4 2152.5 1239.6 2153.5 1239.6 C2155.0 1239.6 2156.6 1237.2 2158.1 1237.2 C2160.1 1237.2 2162.1 1239.9 2164.1 1239.9 C2165.6 1239.9 2167.2 1239.8 2168.7 1239.6 C2170.1 1239.4 2171.5 1237.2 2172.9 1237.2 C2174.2 1237.2 2175.6 1239.2 2176.9 1239.2 C2178.9 1239.2 2181.0 1239.2 2183 1239.2 C2186.0 1239.2 2189.0 1239.2 2192 1239.2 L2192 1274.5 L205 1274.5 Z" fill="#5a7bf6" fill-opacity="0.022"/>
<g stroke="#eeeeef" stroke-width="2">
<line x1="404" y1="1195" x2="404" y2="1275"/>
<line x1="866" y1="1195" x2="866" y2="1275"/>
<line x1="1246" y1="1195" x2="1246" y2="1275"/>
<line x1="1322" y1="1195" x2="1322" y2="1275"/>
<line x1="1784" y1="1195" x2="1784" y2="1275"/>
<line x1="2192" y1="1195" x2="2192" y2="1275"/>
</g>
<path d="M205 1248 C220.8 1248.0 236.5 1248.0 252.3 1248 C253.6 1248.0 254.8 1245.3 256.1 1242.4 C257.6 1238.9 259.2 1218.4 260.7 1218.4 C262.3 1218.4 263.8 1226.7 265.4 1228.4 C267.2 1230.3 268.9 1232.1 270.7 1232.1 C272.4 1232.1 274.0 1219.9 275.7 1219.9 C277.3 1219.9 278.8 1230.8 280.4 1230.8 C282.3 1230.8 284.1 1228.9 286 1228.9 C287.9 1228.9 289.7 1230.2 291.6 1230.2 C293.2 1230.2 294.7 1221.4 296.3 1221.4 C298.2 1221.4 300.0 1232.9 301.9 1234 C303.1 1234.7 304.4 1235.3 305.6 1235.3 C307.5 1235.3 309.3 1234.2 311.2 1234.2 C312.8 1234.2 314.3 1239.0 315.9 1239 C317.8 1239.0 319.6 1239.0 321.5 1239 C323.4 1239.0 325.2 1237.3 327.1 1237.3 C329.6 1237.3 332.1 1239.6 334.6 1239.6 C337.1 1239.6 339.6 1239.0 342.1 1239 C344.9 1239.0 347.7 1240.9 350.5 1240.9 C352.4 1240.9 354.2 1239.0 356.1 1239 C358.0 1239.0 359.8 1240.1 361.7 1240.1 C363.3 1240.1 364.8 1238.7 366.4 1238.7 C368.3 1238.7 370.1 1240.5 372 1240.5 C373.5 1240.5 375.1 1240.3 376.6 1240.1 C378.0 1239.9 379.5 1235.8 380.9 1235.8 C382.9 1235.8 384.9 1240.9 386.9 1240.9 C390.0 1240.9 393.2 1240.8 396.3 1240.5 C397.0 1240.4 397.8 1232.5 398.5 1227.4 C399.5 1220.5 400.5 1202.2 401.5 1202.2 C402.2 1202.2 403.0 1204.2 403.7 1205.9 C404.6 1208.1 405.6 1217.8 406.5 1218.1 C409.6 1219.3 412.8 1218.5 415.9 1219.6 C416.8 1219.9 417.8 1223.9 418.7 1227.4 C419.6 1230.9 420.6 1243.8 421.5 1243.9 C425.5 1244.5 429.6 1244.6 433.6 1244.6 C444.8 1244.6 456.1 1244.6 467.3 1244.6 C468.5 1244.6 469.8 1242.2 471 1240.5 C472.9 1237.9 474.7 1229.3 476.6 1229.3 C478.5 1229.3 480.3 1232.8 482.2 1234 C484.7 1235.6 487.2 1235.6 489.7 1237.7 C492.1 1239.7 494.4 1257.7 496.8 1257.7 C498.2 1257.7 499.5 1235.4 500.9 1235.3 C504.3 1235.0 507.8 1234.9 511.2 1234.9 C513.1 1234.9 514.9 1242.2 516.8 1242.4 C519.0 1242.7 521.2 1242.8 523.4 1242.8 C526.5 1242.8 529.6 1234.6 532.7 1234.5 C535.8 1234.4 539.0 1234.3 542.1 1234.3 C544.6 1234.3 547.0 1235.8 549.5 1235.8 C553.2 1235.8 557.0 1235.8 560.7 1235.8 C564.5 1235.8 568.2 1233.0 572 1233 C573.9 1233.0 575.7 1239.0 577.6 1239 C579.1 1239.0 580.7 1232.1 582.2 1232.1 C584.4 1232.1 586.6 1232.6 588.8 1233.4 C591.6 1234.4 594.4 1267.7 597.2 1267.7 C599.7 1267.7 602.2 1234.0 604.7 1234 C606.9 1234.0 609.0 1234.0 611.2 1234 C612.5 1234.0 613.7 1231.4 615 1230.8 C616.2 1230.3 617.5 1229.7 618.7 1229.7 C620.3 1229.7 621.8 1231.2 623.4 1231.2 C625.0 1231.2 626.5 1229.3 628.1 1229.3 C630.0 1229.3 631.8 1231.1 633.7 1231.5 C636.8 1232.1 639.9 1232.7 643 1232.7 C645.8 1232.7 648.6 1228.4 651.4 1228.4 C653.6 1228.4 655.8 1229.9 658 1229.9 C662.4 1229.9 666.7 1228.7 671.1 1228.7 C674.8 1228.7 678.6 1230.2 682.3 1230.2 C684.2 1230.2 686.0 1228.9 687.9 1228.9 C690.4 1228.9 692.9 1230.2 695.4 1231.2 C697.9 1232.2 700.4 1234.9 702.9 1235.5 C707.2 1236.6 711.6 1237.5 715.9 1237.5 C721.5 1237.5 727.2 1237.4 732.8 1237.3 C735.9 1237.2 739.0 1225.2 742.1 1225.2 C745.8 1225.2 749.6 1226.9 753.3 1226.9 C755.2 1226.9 757.0 1225.4 758.9 1225.2 C765.8 1224.3 772.6 1224.6 779.5 1223.7 C782.3 1223.3 785.1 1220.9 787.9 1220.9 C790.4 1220.9 792.9 1225.6 795.4 1225.6 C804.7 1225.6 814.1 1224.6 823.4 1224.6 C825.0 1224.6 826.5 1233.0 828.1 1233 C831.2 1233.0 834.3 1227.4 837.4 1227.4 C839.3 1227.4 841.1 1230.2 843 1230.2 C845.5 1230.2 848.0 1226.5 850.5 1226.5 C855.5 1226.5 860.5 1226.6 865.5 1227 C868.0 1227.2 870.5 1230.0 873 1232.1 C874.9 1233.7 876.7 1238.3 878.6 1238.3 C880.1 1238.3 881.7 1234.3 883.2 1234.3 C885.4 1234.3 887.6 1236.2 889.8 1236.2 C892.9 1236.2 896.0 1231.3 899.1 1230.2 C902.2 1229.1 905.4 1227.8 908.5 1227.8 C910.4 1227.8 912.2 1228.7 914.1 1228.7 C917.8 1228.7 921.6 1227.0 925.3 1227 C929.0 1227.0 932.8 1228.6 936.5 1228.7 C942.7 1228.8 949.0 1228.8 955.2 1228.9 C957.1 1228.9 958.9 1229.9 960.8 1229.9 C963.6 1229.9 966.4 1228.9 969.2 1228.9 C970.8 1228.9 972.3 1233.4 973.9 1233.4 C975.5 1233.4 977.0 1228.4 978.6 1228.4 C982.6 1228.4 986.7 1228.4 990.7 1228.4 C993.2 1228.4 995.7 1229.9 998.2 1229.9 C1001.3 1229.9 1004.4 1228.7 1007.5 1228.7 C1012.5 1228.7 1017.5 1228.8 1022.5 1228.9 C1025.0 1229.0 1027.5 1229.3 1030 1229.3 C1032.5 1229.3 1035.0 1228.4 1037.5 1228.4 C1040.0 1228.4 1042.5 1229.3 1045 1229.3 C1048.1 1229.3 1051.2 1227.4 1054.3 1227.4 C1056.2 1227.4 1058.0 1228.9 1059.9 1228.9 C1064.3 1228.9 1068.6 1228.4 1073 1228 C1076.4 1227.7 1079.9 1226.5 1083.3 1226.5 C1085.5 1226.5 1087.6 1229.9 1089.8 1229.9 C1094.8 1229.9 1099.8 1229.2 1104.8 1227.4 C1106.3 1226.9 1107.9 1219.6 1109.4 1219.6 C1111.6 1219.6 1113.8 1226.8 1116 1227 C1118.8 1227.3 1121.6 1227.2 1124.4 1227.4 C1126.6 1227.6 1128.7 1230.2 1130.9 1230.2 C1137.1 1230.2 1143.4 1227.0 1149.6 1227 C1155.8 1227.0 1162.1 1227.1 1168.3 1227.4 C1169.6 1227.5 1170.8 1229.6 1172.1 1231.2 C1174.6 1234.2 1177.0 1243.9 1179.5 1243.9 C1182.0 1243.9 1184.5 1243.5 1187 1243 C1189.5 1242.5 1192.0 1239.6 1194.5 1239.6 C1197.0 1239.6 1199.5 1240.6 1202 1240.9 C1206.3 1241.4 1210.7 1242.0 1215 1242 C1218.1 1242.0 1221.3 1239.8 1224.4 1239.8 C1226.3 1239.8 1228.1 1240.9 1230 1240.9 C1232.5 1240.9 1235.0 1239.0 1237.5 1239 C1240.3 1239.0 1243.2 1241.8 1246 1243 C1248.8 1244.2 1251.5 1246.1 1254.3 1246.1 C1256.5 1246.1 1258.6 1240.9 1260.8 1240.1 C1263.6 1239.1 1266.5 1239.1 1269.3 1238.3 C1271.2 1237.8 1273.0 1235.8 1274.9 1235.8 C1278.0 1235.8 1281.1 1235.8 1284.2 1235.8 C1286.1 1235.8 1287.9 1234.9 1289.8 1234.9 C1292.3 1234.9 1294.8 1235.9 1297.3 1236 C1302.3 1236.2 1307.2 1236.4 1312.2 1236.4 C1315.3 1236.4 1318.5 1234.9 1321.6 1234 C1324.1 1233.3 1326.6 1232.5 1329.1 1231.5 C1331.3 1230.6 1333.4 1228.4 1335.6 1228.4 C1338.7 1228.4 1341.9 1230.8 1345 1230.8 C1349.7 1230.8 1354.3 1228.9 1359 1228.9 C1363.3 1228.9 1367.7 1229.3 1372 1229.3 C1374.8 1229.3 1377.7 1229.3 1380.5 1229.3 C1383.3 1229.3 1386.1 1239.6 1388.9 1239.6 C1391.4 1239.6 1393.9 1239.3 1396.4 1239 C1398.9 1238.7 1401.3 1238.4 1403.8 1237.7 C1406.0 1237.1 1408.2 1234.3 1410.4 1234.3 C1412.3 1234.3 1414.1 1236.4 1416 1236.4 C1417.6 1236.4 1419.1 1235.3 1420.7 1235.3 C1423.8 1235.3 1426.9 1235.4 1430 1235.5 C1431.9 1235.6 1433.7 1236.9 1435.6 1237.3 C1438.7 1238.0 1441.9 1238.5 1445 1238.7 C1447.5 1238.9 1450.0 1238.8 1452.5 1239 C1455.3 1239.2 1458.1 1240.1 1460.9 1240.1 C1463.1 1240.1 1465.2 1239.0 1467.4 1239 C1470.2 1239.0 1473.0 1239.4 1475.8 1239.4 C1480.5 1239.4 1485.2 1237.2 1489.9 1237.2 C1493.6 1237.2 1497.4 1239.0 1501.1 1239 C1503.0 1239.0 1504.8 1238.7 1506.7 1238.7 C1509.8 1238.7 1512.9 1240.1 1516 1240.1 C1519.1 1240.1 1522.3 1239.1 1525.4 1238.7 C1529.8 1238.1 1534.1 1237.2 1538.5 1237.2 C1541.0 1237.2 1543.4 1237.7 1545.9 1237.7 C1549.0 1237.7 1552.2 1236.4 1555.3 1236.4 C1557.2 1236.4 1559.0 1238.0 1560.9 1239 C1564.0 1240.6 1567.1 1244.6 1570.2 1244.6 C1572.7 1244.6 1575.2 1244.0 1577.7 1243.3 C1580.5 1242.6 1583.3 1238.3 1586.1 1238.3 C1588.3 1238.3 1590.5 1238.7 1592.7 1239 C1595.2 1239.3 1597.6 1240.5 1600.1 1240.5 C1604.5 1240.5 1608.8 1239.3 1613.2 1239 C1617.9 1238.7 1622.5 1238.3 1627.2 1238.3 C1628.8 1238.3 1630.3 1239.4 1631.9 1239.4 C1635.0 1239.4 1638.2 1239.2 1641.3 1239 C1645.6 1238.7 1650.0 1236.8 1654.3 1236.8 C1658.7 1236.8 1663.0 1236.8 1667.4 1236.8 C1669.0 1236.8 1670.5 1239.0 1672.1 1239 C1673.7 1239.0 1675.2 1237.7 1676.8 1237.7 C1678.3 1237.7 1679.9 1240.1 1681.4 1240.1 C1683.3 1240.1 1685.1 1239.0 1687 1239 C1692.3 1239.0 1697.6 1239.8 1702.9 1239.8 C1707.3 1239.8 1711.6 1239.0 1716 1239 C1717.9 1239.0 1719.7 1243.0 1721.6 1243 C1723.5 1243.0 1725.3 1239.1 1727.2 1239 C1730.3 1238.8 1733.5 1238.7 1736.6 1238.7 C1739.1 1238.7 1741.6 1239.0 1744.1 1239 C1746.6 1239.0 1749.0 1238.9 1751.5 1238.7 C1753.4 1238.6 1755.2 1235.8 1757.1 1235.8 C1760.2 1235.8 1763.4 1236.5 1766.5 1236.8 C1770.2 1237.1 1774.0 1237.7 1777.7 1237.7 C1780.2 1237.7 1782.7 1236.8 1785.2 1236.8 C1792.0 1236.8 1798.9 1236.8 1805.7 1236.8 C1807.6 1236.8 1809.5 1239.5 1811.4 1240.1 C1815.1 1241.3 1818.9 1242.4 1822.6 1242.4 C1826.0 1242.4 1829.5 1240.1 1832.9 1240.1 C1836.3 1240.1 1839.7 1240.9 1843.1 1240.9 C1845.9 1240.9 1848.7 1239.6 1851.5 1239.6 C1853.1 1239.6 1854.6 1240.6 1856.2 1240.9 C1857.5 1241.1 1858.7 1241.4 1860 1241.4 C1862.4 1241.4 1864.9 1238.1 1867.3 1238.1 C1868.9 1238.1 1870.5 1240.5 1872.1 1240.7 C1874.6 1241.0 1877.2 1240.9 1879.7 1241.1 C1882.2 1241.3 1884.7 1243.7 1887.2 1243.7 C1888.7 1243.7 1890.3 1240.2 1891.8 1240.2 C1893.8 1240.2 1895.8 1241.4 1897.8 1241.4 C1902.3 1241.4 1906.9 1239.2 1911.4 1239.2 C1913.4 1239.2 1915.5 1240.4 1917.5 1240.4 C1919.5 1240.4 1921.5 1238.9 1923.5 1238.9 C1924.8 1238.9 1926.0 1239.4 1927.3 1239.9 C1929.1 1240.6 1930.8 1245.2 1932.6 1245.2 C1934.4 1245.2 1936.1 1245.1 1937.9 1244.8 C1939.4 1244.6 1941.0 1240.7 1942.5 1240.7 C1945.3 1240.7 1948.0 1242.2 1950.8 1242.2 C1953.3 1242.2 1955.9 1240.2 1958.4 1240.2 C1961.4 1240.2 1964.4 1243.2 1967.4 1243.2 C1971.4 1243.2 1975.5 1242.6 1979.5 1242.6 C1982.5 1242.6 1985.6 1245.2 1988.6 1245.2 C1991.4 1245.2 1994.1 1241.7 1996.9 1241.7 C2000.4 1241.7 2004.0 1241.7 2007.5 1241.7 C2009.3 1241.7 2011.0 1238.4 2012.8 1238.4 C2014.3 1238.4 2015.9 1239.9 2017.4 1239.9 C2021.2 1239.9 2024.9 1239.3 2028.7 1239.3 C2031.7 1239.3 2034.8 1242.5 2037.8 1242.5 C2039.6 1242.5 2041.3 1241.7 2043.1 1241.7 C2044.6 1241.7 2046.1 1242.9 2047.6 1242.9 C2049.4 1242.9 2051.1 1241.7 2052.9 1241.7 C2054.7 1241.7 2056.4 1241.7 2058.2 1241.7 C2059.7 1241.7 2061.3 1238.9 2062.8 1238.9 C2065.8 1238.9 2068.8 1239.9 2071.8 1239.9 C2075.3 1239.9 2078.9 1238.0 2082.4 1238 C2087.5 1238.0 2092.5 1240.4 2097.6 1240.4 C2099.4 1240.4 2101.1 1238.7 2102.9 1238.7 C2107.7 1238.7 2112.4 1240.1 2117.2 1240.4 C2119.7 1240.6 2122.3 1240.8 2124.8 1240.8 C2129.3 1240.8 2133.9 1235.4 2138.4 1235.4 C2140.4 1235.4 2142.5 1235.7 2144.5 1236.1 C2146.5 1236.5 2148.5 1238.8 2150.5 1239.2 C2151.5 1239.4 2152.5 1239.6 2153.5 1239.6 C2155.0 1239.6 2156.6 1237.2 2158.1 1237.2 C2160.1 1237.2 2162.1 1239.9 2164.1 1239.9 C2165.6 1239.9 2167.2 1239.8 2168.7 1239.6 C2170.1 1239.4 2171.5 1237.2 2172.9 1237.2 C2174.2 1237.2 2175.6 1239.2 2176.9 1239.2 C2178.9 1239.2 2181.0 1239.2 2183 1239.2 C2186.0 1239.2 2189.0 1239.2 2192 1239.2" fill="none" stroke="#5a7bf6" stroke-width="2.1" stroke-linejoin="round"/>
<g font-family="Liberation Sans" font-size="22.5" fill="#5f5f5f">
<text x="410" y="1267">Jul '23</text>
<text x="872.5" y="1267">Jan '24</text>
<text x="1329.5" y="1267">Jul '24</text>
<text x="1791.5" y="1267">Jan '25</text>
</g>
<g>
<rect x="1238" y="1220.1" width="15.8" height="29.7" fill="#efefef" stroke="#8a8a8a" stroke-width="1.9"/>
<line x1="1243.9" y1="1227.1" x2="1243.9" y2="1242.6" stroke="#8a8a8a" stroke-width="1.7"/>
<line x1="1248.1" y1="1227.1" x2="1248.1" y2="1242.6" stroke="#8a8a8a" stroke-width="1.7"/>
<rect x="2184.2" y="1220.1" width="15.8" height="29.7" fill="#efefef" stroke="#8a8a8a" stroke-width="1.9" clip-path="url(#slclip)"/>
<line x1="2190" y1="1227.1" x2="2190" y2="1242.6" stroke="#8a8a8a" stroke-width="1.7"/>
</g>
<clipPath id="slclip"><rect x="0" y="0" width="2193" height="1388"/></clipPath>
</svg>
</body></html>
